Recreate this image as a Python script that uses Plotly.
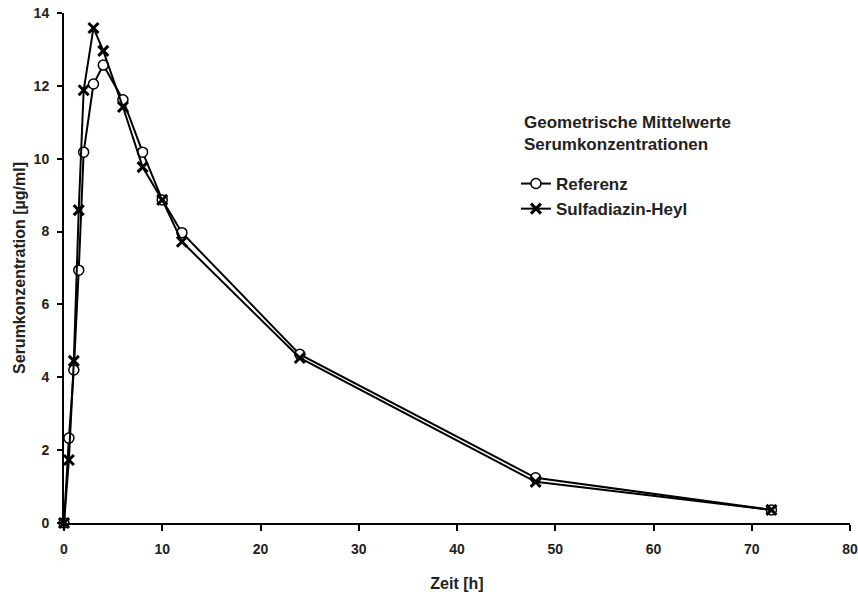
import plotly.graph_objects as go

zeit = [0, 0.5, 1, 1.5, 2, 3, 4, 6, 8, 10, 12, 24, 48, 72]
referenz = [0, 2.33, 4.2, 6.94, 10.18, 12.05, 12.57, 11.62, 10.18, 8.87, 7.97, 4.63, 1.24, 0.36]
sulfadiazin = [0, 1.73, 4.45, 8.59, 11.88, 13.59, 12.96, 11.42, 9.77, 8.87, 7.72, 4.53, 1.13, 0.36]

x_ticks = [0, 10, 20, 30, 40, 50, 60, 70, 80]
y_ticks = [0, 2, 4, 6, 8, 10, 12, 14]

fig = go.Figure()
fig.add_trace(go.Scatter(
    x=zeit, y=referenz, name="Referenz", mode="lines+markers",
    line=dict(color="black", width=2),
    marker=dict(symbol="circle", size=10, color="white", line=dict(color="black", width=1.5)),
))
fig.add_trace(go.Scatter(
    x=zeit, y=sulfadiazin, name="Sulfadiazin-Heyl", mode="lines+markers",
    line=dict(color="black", width=2),
    marker=dict(symbol="x-thin-open", size=10, color="black", line=dict(color="black", width=3)),
))

fig.add_annotation(
    xref="paper", yref="paper", x=0.583, y=0.763, xanchor="left", yanchor="middle",
    text="<b>Geometrische Mittelwerte<br>Serumkonzentrationen</b>", showarrow=False,
    align="left", font=dict(size=17, color="#222"),
)

fig.update_layout(
    width=858, height=592,
    margin=dict(l=64, r=8, t=13, b=69),
    paper_bgcolor="white", plot_bgcolor="white",
    font=dict(family="Liberation Sans, Arial, sans-serif", color="#222"),
    showlegend=True,
    legend=dict(
        x=0.575, y=0.70, xanchor="left", yanchor="top",
        traceorder="normal",
        font=dict(size=17, color="#222", weight="bold"),
        itemwidth=30, bgcolor="rgba(0,0,0,0)",
    ),
    xaxis=dict(
        range=[0, 80], tickvals=x_ticks, ticktext=[str(v) for v in x_ticks],
        automargin=False, ticklabeloverflow="allow",
        showgrid=False, zeroline=False, showline=True, linecolor="black", linewidth=2,
        ticks="outside", ticklen=6, tickwidth=1.5, tickcolor="black", ticklabelstandoff=6,
        tickfont=dict(family="Liberation Sans Narrow, Liberation Sans, Arial", size=14, color="#222", weight="bold"),
        title=dict(text="<b>Zeit [h]</b>", font=dict(size=16, color="#222"), standoff=24),
    ),
    yaxis=dict(
        range=[0, 14], tickvals=y_ticks, ticktext=[str(v) for v in y_ticks],
        automargin=False, ticklabeloverflow="allow",
        showgrid=False, zeroline=False, showline=True, linecolor="black", linewidth=2,
        ticks="outside", ticklen=5, tickwidth=1.5, tickcolor="black", ticklabelstandoff=5,
        tickfont=dict(size=14, color="#222", weight="bold"),
        title=dict(text="<b>Serumkonzentration [µg/ml]</b>", font=dict(size=16, color="#222"), standoff=4),
    ),
)
for tr in fig.data:
    tr.cliponaxis = False

fig.write_html("out.html", config={"displayModeBar": False},
               post_script="document.body.style.margin='0';")
